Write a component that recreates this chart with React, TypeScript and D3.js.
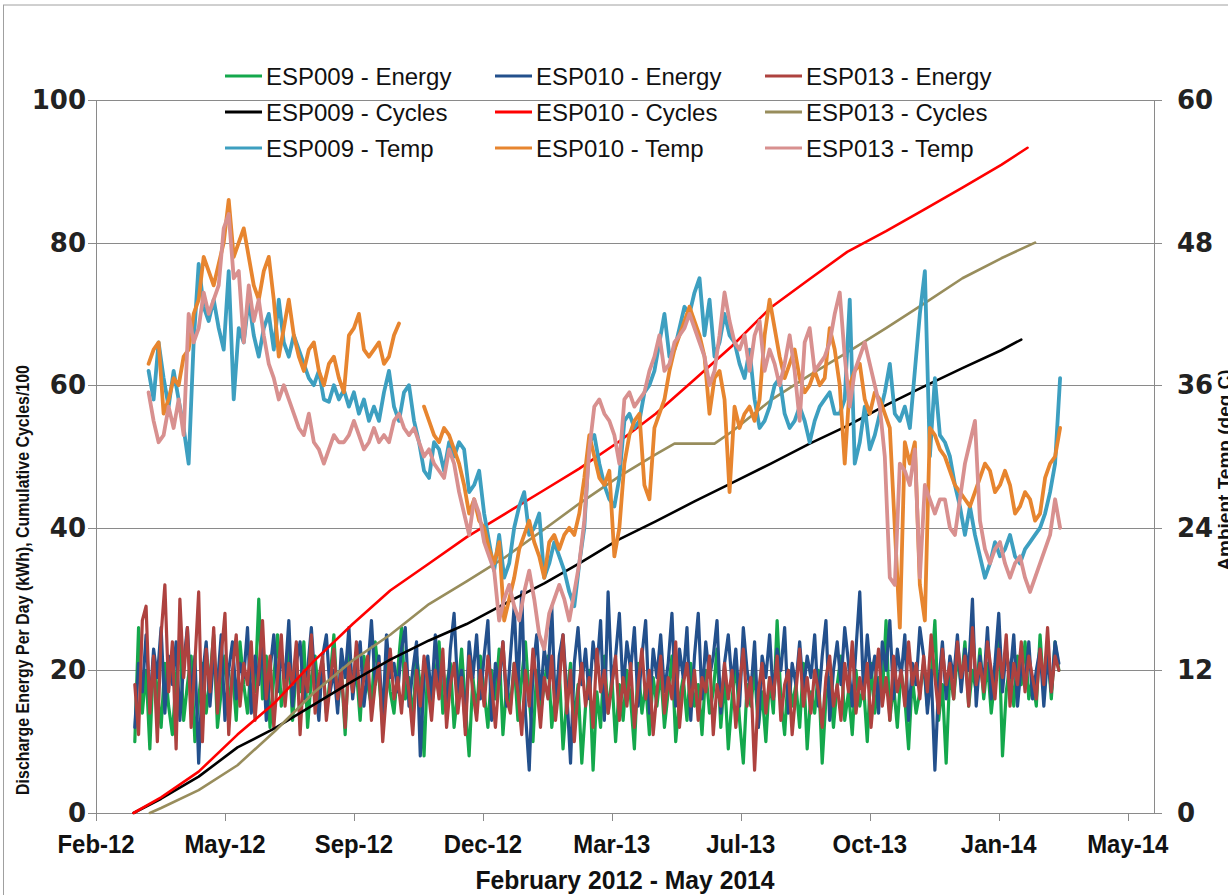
import React from "react";
import * as d3 from "d3";

// ---- time axis ----
const axisStart = "2012-02-09";
const axisSpanDays = 845;
const tickStepDays = 103;
const tickCount = 9;

// ---- daily discharge energy (kWh), sampled every 3 days ----
const energyStart = "2012-03-11";
const energyStepDays = 3;
const esp009Energy = [
  10, 26, 14, 20, 9, 22, 17, 12, 21, 15,
  11, 19, 24, 13, 18, 22, 10, 16, 21, 14,
  19, 25, 12, 17, 22, 15, 20, 13, 24, 18,
  14, 21, 17, 30, 16, 22, 12, 19, 25, 15,
  18, 23, 13, 20, 17, 24, 12, 19, 22, 16,
  21, 14, 19, 25, 15, 20, 11, 23, 17, 20,
  13, 22, 18, 15, 24, 19, 12, 21, 17, 14,
  20, 26, 16, 19, 13, 22, 18, 8, 21, 15,
  19, 24, 14, 18, 21, 12, 17, 23, 15, 8,
  19, 14, 22, 17, 12, 20, 16, 23, 11, 18,
  15, 21, 13, 19, 24, 16, 10, 20, 14, 18,
  22, 12, 17, 20, 9, 16, 21, 13, 18, 7,
  15, 20, 6, 17, 12, 22, 14, 19, 10, 18,
  13, 20, 16, 9, 21, 14, 18, 11, 19, 15,
  20, 12, 17, 22, 10, 16, 19, 13, 21, 15,
  18, 11, 20, 14, 17, 23, 12, 19, 9, 16,
  21, 13, 7, 18, 15, 20, 12, 17, 10, 19,
  14, 27, 16, 11, 20, 15, 18, 12, 21, 9,
  17, 14, 20, 7, 16, 19, 12, 18, 22, 13,
  17, 11, 20, 15, 18, 10, 21, 14, 19, 16,
  27, 13, 18, 12, 20, 16, 9, 19, 14, 17,
  21, 15, 19, 27, 13, 18, 7, 20, 16, 22,
  18, 24, 15, 20, 17, 23, 16, 21, 14, 19,
  26, 8, 17, 21, 15, 22, 18, 24, 16, 19,
  15, 25, 17, 23, 16, 24, 20,
];
const esp010Energy = [
  12, 21, 17, 25, 15, 23, 19, 26, 14, 22,
  18, 24, 13, 21, 26, 16, 22, 7, 19, 24,
  15, 22, 18, 25, 13, 20, 24, 16, 21, 19,
  26, 14, 22, 18, 24, 13, 20, 25, 17, 22,
  19, 27, 15, 21, 24, 16, 20, 26, 18, 13,
  22, 25, 17, 20, 14, 23, 19, 26, 16, 21,
  24, 15, 20, 27, 18, 22, 13, 25, 19, 21,
  17, 23, 26, 15, 20, 24, 8, 19, 22, 16,
  25, 18, 21, 14, 23, 28, 17, 20, 12, 24,
  19, 25, 16, 22, 27, 13, 21, 18, 24, 15,
  22, 29, 17, 31, 14, 6, 20, 25, 16, 23,
  19, 29, 14, 22, 25, 17, 7, 21, 26, 18,
  23, 16, 24, 20, 27, 13, 31, 18, 22, 28,
  17, 24, 20, 26, 15, 22, 27, 14, 23, 19,
  25, 17, 21, 28, 15, 23, 19, 26, 13, 22,
  28, 16, 24, 19, 22, 27, 14, 21, 25, 18,
  23, 15, 26, 20, 17, 24, 12, 22, 19, 25,
  16, 23, 20, 26, 14, 21, 18, 24, 17, 22,
  19, 25, 15, 22, 27, 13, 20, 24, 18, 26,
  21, 15, 23, 31, 17, 25, 19, 22, 14, 24,
  20, 27, 16, 23, 19, 25, 13, 21, 18, 26,
  22, 14, 20, 6, 18, 24, 16, 22, 19, 25,
  17, 23, 20, 30, 15, 22, 18, 26, 16, 21,
  28, 17, 23, 19, 25, 15, 21, 18, 24, 16,
  20, 23, 15, 22, 17, 24, 21,
];
const esp013Energy = [
  18, 11, 27, 29, 14, 22, 10, 25, 32, 17,
  24, 9, 30, 19, 26, 12, 21, 31, 10, 23,
  17, 26, 14, 22, 28, 11, 20, 25, 15, 21,
  18, 24, 13, 20, 27, 16, 22, 12, 19, 25,
  15, 21, 18, 24, 11, 20, 17, 25, 14, 19,
  22, 13, 18, 23, 16, 20, 12, 21, 17, 24,
  15, 19, 22, 13, 18, 21, 10, 17, 23, 16,
  19, 14, 21, 17, 11, 20, 15, 22, 18, 13,
  20, 16, 23, 12, 18, 21, 14, 19, 11, 22,
  17, 13, 20, 15, 22, 18, 12, 19, 24, 16,
  14, 21, 17, 11, 20, 15, 23, 18, 12, 19,
  16, 22, 13, 18, 25, 14, 20, 10, 17, 21,
  15, 19, 12, 23, 17, 20, 14, 18, 22, 13,
  19, 15, 21, 12, 18, 23, 16, 20, 11, 17,
  22, 14, 19, 16, 24, 12, 18, 21, 15, 20,
  13, 19, 17, 22, 11, 18, 15, 21, 16, 20,
  12, 18, 23, 15, 19, 6, 17, 21, 14, 19,
  16, 22, 13, 18, 20, 11, 17, 23, 15, 19,
  14, 20, 17, 12, 19, 22, 15, 18, 13, 21,
  17, 24, 14, 19, 16, 21, 12, 18, 23, 15,
  19, 13, 22, 17, 20, 15, 24, 18, 21, 16,
  22, 17, 25, 19, 14, 23, 18, 21, 16, 24,
  19, 22, 15, 26, 18, 21, 17, 24, 20, 16,
  23, 19, 25, 15, 21, 18, 24, 17, 22, 19,
  16, 23, 18, 26, 17, 22, 20,
];

// ---- cumulative cycles / 100 ----
const cycleDates009 = [
  "2012-03-10", "2012-04-01", "2012-05-01", "2012-06-01", "2012-07-01", "2012-08-01",
  "2012-09-01", "2012-10-01", "2012-11-01", "2012-12-01", "2013-01-01", "2013-02-01",
  "2013-03-01", "2013-04-01", "2013-05-01", "2013-06-01", "2013-07-01", "2013-08-01",
  "2013-09-01", "2013-10-01", "2013-11-01", "2013-12-01", "2014-01-01", "2014-02-01",
  "2014-02-17",
];
const esp009Cycles = [
  0, 2, 5.1, 9.2, 11.9, 15.2, 18.5, 21.5, 24.2, 26.5, 29.4, 32.2,
  35, 38.3, 40.9, 43.7, 46.3, 49, 51.8, 54.3, 57.2, 59.8, 62.4, 64.9, 66.4,
];
const cycleDates010 = [
  "2012-03-10", "2012-04-01", "2012-05-01", "2012-06-01", "2012-07-01", "2012-08-01",
  "2012-09-01", "2012-10-01", "2012-11-01", "2012-12-01", "2013-01-01", "2013-02-01",
  "2013-03-01", "2013-04-01", "2013-05-01", "2013-06-01", "2013-07-01", "2013-08-01",
  "2013-09-01", "2013-10-01", "2013-11-01", "2013-12-01", "2014-01-01", "2014-02-01",
  "2014-02-22",
];
const esp010Cycles = [
  0, 2.2, 5.8, 11, 15.5, 21.3, 26.5, 31.2, 35, 38.7, 42, 45.3,
  48.3, 52, 56, 60.8, 65.5, 70.9, 74.9, 78.7, 81.6, 84.6, 87.7, 90.9, 93.3,
];
const cycleDates013 = [
  "2012-03-23", "2012-04-01", "2012-05-01", "2012-06-01", "2012-07-01", "2012-08-01",
  "2012-09-01", "2012-10-01", "2012-11-01", "2012-12-01", "2013-01-01", "2013-02-01",
  "2013-03-01", "2013-04-01", "2013-05-01", "2013-05-16", "2013-06-17", "2013-07-01",
  "2013-08-01", "2013-09-01", "2013-10-01", "2013-11-01", "2013-12-01", "2014-01-01",
  "2014-02-01", "2014-02-28",
];
const esp013Cycles = [
  0, 0.7, 3.2, 6.7, 11.5, 16.9, 21.4, 25, 29.3, 32.5, 35.9, 39.8, 43.4,
  47.1, 50.3, 51.8, 51.8, 53.5, 57.9, 61.4, 64.6, 68, 71.4, 75, 77.8, 80,
];

// ---- ambient temperature (deg C), sampled every 4 days ----
const tempStart = "2012-03-22";
const tempStepDays = 4;
const esp009Temp = [
  37.2, 34.8, 39.6, 36.6, 34.2, 37.2, 34.8, 32.4, 29.4, 39.6,
  46.2, 42.6, 41.4, 43.2, 40.8, 39, 45.6, 34.8, 40.8, 39.6,
  43.2, 40.2, 38.4, 40.8, 42, 39, 43.2, 39.6, 38.4, 40.2,
  39, 37.8, 36.6, 36, 37.2, 34.8, 34.6, 36, 34.8, 35.6,
  34.2, 35.4, 33.6, 34.8, 33, 34.2, 33, 35.4, 37.2, 34.2,
  33, 35.4, 36, 33, 31.2, 28.8, 28.2, 31.2, 30.6, 28.8,
  31.2, 30, 31.2, 30.6, 27, 27.6, 28.8, 25.2, 22.8, 20.4,
  23.4, 19.8, 21, 24, 25.8, 27, 23.4, 24, 25.2, 19.8,
  21, 22.8, 21.6, 20.4, 18.6, 17.4, 21, 24, 31.2, 31.8,
  29.4, 27.6, 26.4, 25.8, 28.2, 33, 33.6, 32.4, 33, 35.4,
  36, 37.2, 39.6, 42, 38.4, 39, 40.8, 42.6, 42, 43.8,
  45, 40.2, 43.2, 38.4, 39.6, 42, 40.2, 39.6, 37.8, 36.6,
  39, 34.8, 32.4, 33, 34.2, 36, 36.6, 33.6, 32.4, 33,
  34.2, 33, 31.2, 33, 34.2, 34.8, 35.4, 33.6, 33.6, 34.8,
  43.2, 29.4, 31.2, 34.2, 30.6, 31.8, 33.6, 35.4, 37.8, 33.6,
  33, 34.2, 32.4, 37.2, 42, 45.6, 30, 36.6, 31.8, 31.2,
  30, 27.6, 25.8, 23.4, 25.8, 23.4, 21.6, 19.8, 21, 22.8,
  21.6, 22.2, 23.4, 21.6, 21, 22.2, 22.8, 23.4, 24, 25.2,
  27, 29.4, 36.6,
];
const esp010Temp = [
  37.8, 39, 39.6, 33.6, 34.8, 36.6, 36, 38.4, 39, 42,
  43.2, 46.8, 45.6, 44.4, 46.2, 48, 51.6, 46.8, 48, 49.2,
  46.8, 44.4, 43.2, 45.6, 46.8, 43.2, 38.4, 40.8, 43.2, 40.2,
  38.4, 37.2, 39, 39.6, 37.2, 36, 37.8, 38.4, 36.6, 35.4,
  40.2, 40.8, 42, 39, 38.4, 39, 39.6, 37.8, 38.4, 40.2,
  41.2, null, null, null, null, 34.2, 33, 31.8, 31.2, 32.4,
  31.8, 30.6, 29.4, 27.6, 25.2, 26.4, 24.6, 24, 22.2, 21,
  22.8, 16.2, 18, 19.8, 22.2, 23.4, 24.6, 22.8, 21.6, 19.8,
  22.8, 23.4, 22.2, 23.4, 24, 23.4, 25.2, 28.2, 31.8, 30,
  28.2, 27.6, 28.8, 21.6, 24, 29.4, 31.8, 33, 33.6, 27.6,
  26.4, 32.4, 33.6, 34.8, 37.2, 39, 40.2, 41.4, 42.6, 41.4,
  40.2, 38.4, 33.6, 36.6, 37.2, 34.8, 27, 34.2, 32.4, 33.6,
  34.2, 33, 34.8, 40.2, 43.2, 40.8, 38.4, 36.6, 37.8, 39,
  36.6, 35.4, 36, 37.2, 36, 36.6, 40.8, 39, 36, 29.4,
  36, 37.2, 37.8, 34.8, 33.6, 35.4, 34.8, 33.6, 32.4, 24,
  15.6, 31.2, 29.4, 31.2, 19.2, 16.2, 32.4, 31.8, 30.6, 30,
  28.8, 27.6, 27, 26.4, 25.8, 27, 28.2, 29.4, 28.8, 27,
  27.6, 28.8, 27.6, 25.2, 25.8, 27, 26.4, 24.6, 25.2, 28.2,
  29.4, 30, 32.4,
];
const esp013Temp = [
  35.4, 33, 31.2, 31.8, 34.2, 32.4, 34.8, 31.8, 42, 39.6,
  40.8, 43.8, 42, 43.2, 44.4, 49.2, 50.4, 45, 45.6, 39.6,
  44.4, 41.4, 43.2, 40.2, 37.8, 36.6, 34.8, 36, 34.8, 33.6,
  32.4, 31.8, 33.6, 31.2, 30.6, 29.4, 30.6, 31.8, 31.2, 31.2,
  31.8, 33, 31.8, 30.6, 31.2, 32.4, 31.2, 31.8, 31.2, 33,
  33.6, 32.4, 31.8, 32.4, 31.2, 30, 30.6, 29.4, 28.8, 28.2,
  30.6, 29.4, 27, 25.2, 23.4, 26.4, 25.2, 22.8, 21.6, 20.4,
  16.2, 18, 19.2, 17.4, 16.2, 18.6, 20.4, 18, 15, 13.8,
  16.8, 18, 19.2, 18, 16.2, 18.6, 21, 24.6, 30.6, 34.2,
  34.8, 33.6, 33, 31.8, 29.4, 34.8, 35.4, 34.2, 34.8, 35.4,
  37.2, 38.4, 40.2, 37.2, 37.8, 39.6, 40.2, 40.8, 42, 40.8,
  39.6, 38.4, 36, 37.2, 40.2, 43.8, 41.4, 39.6, 39, 40.2,
  37.2, 40.2, 41.4, 37.2, 39, 37.8, 36, 37.8, 40.2, 37.2,
  33, 39.6, 40.8, 37.2, 37.8, 38.4, 39.6, 42, 43.8, 38.4,
  34.2, 37.2, 38.4, 39.6, 37.8, 36, 34.2, 30, 19.8, 19.2,
  29.4, 28.8, 27.6, 30.6, 19.8, 27.6, 26.4, 25.2, 26.4, 26.4,
  24, 23.4, 26.4, 29.4, 31.2, 33, 24.6, 22.2, 21, 22.2,
  22.8, 21, 19.8, 21, 21.6, 19.8, 18.6, 19.8, 21, 22.2,
  23.4, 26.4, 24,
];

// ---- axis labels ----
const leftTicks = [0, 20, 40, 60, 80, 100];
const rightTicks = [0, 12, 24, 36, 48, 60];
const xTitle = "February 2012 - May 2014";
const leftTitle = "Discharge Energy Per Day (kWh), Cumulative Cycles/100";
const rightTitle = "Ambient Temp (deg C)";

type Pt = { date: Date; value: number | null };
const DAY = 86400000;
const parseDay = d3.utcParse("%Y-%m-%d");
const fmt = d3.utcFormat("%b-%y");

const stepped = (start: string, step: number, values: (number | null)[]): Pt[] => {
  const t0 = (parseDay(start) as Date).getTime();
  return values.map((v, i) => ({ date: new Date(t0 + i * step * DAY), value: v }));
};
const dated = (dates: string[], values: number[]): Pt[] =>
  dates.map((s, i) => ({ date: parseDay(s) as Date, value: values[i] }));

const W = 1228;
const H = 895;
const left = 96;
const right = 1154;
const top = 100;
const bottom = 813;

export default function App() {
  const t0 = parseDay(axisStart) as Date;
  const x = d3
    .scaleUtc()
    .domain([t0, new Date(t0.getTime() + axisSpanDays * DAY)])
    .range([left, right]);
  const yL = d3.scaleLinear().domain([0, 100]).range([bottom, top]);
  const yR = d3.scaleLinear().domain([0, 60]).range([bottom, top]);

  const xTicks = d3.range(tickCount).map((k) => new Date(t0.getTime() + k * tickStepDays * DAY));

  const lineL = d3
    .line<Pt>()
    .defined((d) => d.value !== null)
    .x((d) => x(d.date))
    .y((d) => yL(d.value as number));
  const lineR = d3
    .line<Pt>()
    .defined((d) => d.value !== null)
    .x((d) => x(d.date))
    .y((d) => yR(d.value as number));

  const series = [
    { name: "ESP009 - Energy", color: "#14a84c", width: 3.2, d: lineL(stepped(energyStart, energyStepDays, esp009Energy)) },
    { name: "ESP010 - Energy", color: "#23508c", width: 3.2, d: lineL(stepped(energyStart, energyStepDays, esp010Energy)) },
    { name: "ESP013 - Energy", color: "#ae423f", width: 3.2, d: lineL(stepped(energyStart, energyStepDays, esp013Energy)) },
    { name: "ESP009 - Cycles", color: "#000000", width: 2.6, d: lineL(dated(cycleDates009, esp009Cycles)) },
    { name: "ESP010 - Cycles", color: "#ff0000", width: 2.6, d: lineL(dated(cycleDates010, esp010Cycles)) },
    { name: "ESP013 - Cycles", color: "#988d5c", width: 2.6, d: lineL(dated(cycleDates013, esp013Cycles)) },
    { name: "ESP009 - Temp", color: "#3d9fc0", width: 3.8, d: lineR(stepped(tempStart, tempStepDays, esp009Temp)) },
    { name: "ESP010 - Temp", color: "#e7852f", width: 3.8, d: lineR(stepped(tempStart, tempStepDays, esp010Temp)) },
    { name: "ESP013 - Temp", color: "#d8908f", width: 3.8, d: lineR(stepped(tempStart, tempStepDays, esp013Temp)) },
  ];

  const grid = "#8a8a8a";
  const legendCols = [225, 495, 765];
  const legendRows = [76, 112, 148];

  return (
    <div style={{ position: "absolute", left: 0, top: 0 }}>
      <svg width={W} height={H} style={{ display: "block", background: "#fff" }}>
        {/* outer frame */}
        <line x1={3} y1={5} x2={W} y2={5} stroke="#a0a0a0" strokeWidth={1} />
        <line x1={3.5} y1={5} x2={3.5} y2={H} stroke="#a0a0a0" strokeWidth={1} />

        {/* gridlines */}
        {leftTicks.filter((t) => t > 0).map((t) => (
          <line key={t} x1={left} x2={right} y1={Math.round(yL(t)) + 0.5} y2={Math.round(yL(t)) + 0.5} stroke={grid} strokeWidth={1} />
        ))}

        {/* axes */}
        <line x1={left + 0.5} x2={left + 0.5} y1={top} y2={bottom} stroke={grid} />
        <line x1={right + 0.5} x2={right + 0.5} y1={top} y2={bottom} stroke={grid} />
        <line x1={left} x2={right} y1={bottom + 0.5} y2={bottom + 0.5} stroke={grid} />
        {leftTicks.map((t) => (
          <line key={"lt" + t} x1={left - 8} x2={left} y1={Math.round(yL(t)) + 0.5} y2={Math.round(yL(t)) + 0.5} stroke={grid} />
        ))}
        {rightTicks.map((t) => (
          <line key={"rt" + t} x1={right} x2={right + 8} y1={Math.round(yR(t)) + 0.5} y2={Math.round(yR(t)) + 0.5} stroke={grid} />
        ))}
        {xTicks.map((t, i) => (
          <line key={"xt" + i} x1={Math.round(x(t)) + 0.5} x2={Math.round(x(t)) + 0.5} y1={bottom} y2={bottom + 8} stroke={grid} />
        ))}

        {/* data */}
        {series.map((s) => (
          <path key={s.name} d={s.d || ""} fill="none" stroke={s.color} strokeWidth={s.width} strokeLinejoin="round" strokeLinecap="round" />
        ))}

        {/* tick labels */}
        {leftTicks.map((t) => (
          <text key={"ll" + t} x={86} y={yL(t)} textAnchor="end" dominantBaseline="central"
            style={{ font: "bold 26px 'DejaVu Sans'", fill: "#222" }}>{t}</text>
        ))}
        {rightTicks.map((t) => (
          <text key={"rl" + t} x={1177} y={yR(t)} textAnchor="start" dominantBaseline="central"
            style={{ font: "bold 26px 'DejaVu Sans'", fill: "#222" }}>{t}</text>
        ))}
        {xTicks.map((t, i) => (
          <text key={"xl" + i} transform={`translate(${x(t)},${853}) scale(0.92,1)`} textAnchor="middle"
            style={{ font: "bold 26px 'Liberation Sans'", fill: "#111" }}>{fmt(t)}</text>
        ))}

        {/* axis titles */}
        <text transform={`translate(${(left + right) / 2},${889}) scale(0.95,1)`} textAnchor="middle"
          style={{ font: "bold 26px 'Liberation Sans'", fill: "#111" }}>{xTitle}</text>
        <text transform={`translate(29,${580}) rotate(-90) scale(0.84,1)`} textAnchor="middle"
          style={{ font: "bold 19px 'Liberation Sans'", fill: "#111" }}>{leftTitle}</text>
        <text transform={`translate(1231,${470}) rotate(-90)`} textAnchor="middle"
          style={{ font: "bold 19px 'Liberation Sans'", fill: "#111" }}>{rightTitle}</text>

        {/* legend */}
        {series.map((s, i) => {
          const cx = legendCols[i % 3];
          const cy = legendRows[Math.floor(i / 3)];
          return (
            <g key={"lg" + i}>
              <line x1={cx} x2={cx + 37} y1={cy} y2={cy} stroke={s.color} strokeWidth={3} />
              <text x={cx + 41} y={cy} dominantBaseline="central"
                style={{ font: "24px 'Liberation Sans'", fill: "#111" }}>{s.name}</text>
            </g>
          );
        })}
      </svg>
    </div>
  );
}
